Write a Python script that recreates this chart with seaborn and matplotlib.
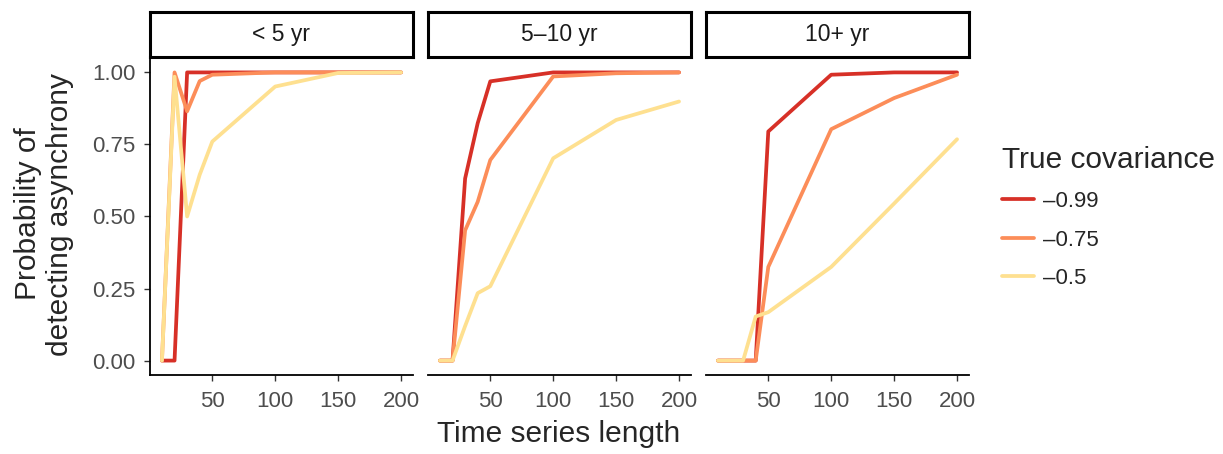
import matplotlib
matplotlib.use("Agg")
import matplotlib.pyplot as plt
from matplotlib.lines import Line2D
import seaborn as sns
import pandas as pd

sns.set_theme(style="white")
plt.rcParams['font.family'] = ['Liberation Sans', 'DejaVu Sans']

# ---- data ----
lengths = [10, 20, 30, 40, 50, 100, 150, 200]
panels = ["< 5 yr", "5\u201310 yr", "10+ yr"]
cov_labels = ["\u20130.99", "\u20130.75", "\u20130.5"]
colors = ["#D73027", "#FC8D59", "#FEE090"]

p1_099 = [0.0, 0.0, 1.0, 1.0, 1.0, 1.0, 1.0, 1.0]
p1_075 = [0.0, 1.0, 0.865, 0.97, 0.992, 1.0, 1.0, 1.0]
p1_050 = [0.0, 0.985, 0.50, 0.645, 0.76, 0.951, 0.998, 1.0]

p2_099 = [0.0, 0.0, 0.632, 0.824, 0.969, 1.0, 1.0, 1.0]
p2_075 = [0.0, 0.0, 0.452, 0.551, 0.696, 0.986, 0.997, 1.0]
p2_050 = [0.0, 0.0, 0.12, 0.234, 0.258, 0.702, 0.835, 0.899]

p3_099 = [0.0, 0.0, 0.0, 0.0, 0.795, 0.992, 1.0, 1.0]
p3_075 = [0.0, 0.0, 0.0, 0.0, 0.325, 0.803, 0.911, 0.992]
p3_050 = [0.0, 0.0, 0.0, 0.153, 0.168, 0.325, 0.545, 0.768]

series = {
    panels[0]: [p1_099, p1_075, p1_050],
    panels[1]: [p2_099, p2_075, p2_050],
    panels[2]: [p3_099, p3_075, p3_050],
}

rows = []
for pan in panels:
    for lab, vals in zip(cov_labels, series[pan]):
        for x, y in zip(lengths, vals):
            rows.append({"panel": pan, "cov": lab, "length": x, "prob": y})
df = pd.DataFrame(rows)

palette = dict(zip(cov_labels, colors))

W, H = 1223, 454
fig = plt.figure(figsize=(W / 100, H / 100), dpi=100)

lefts = [150, 428, 706]
pw = 263
ax_top, ax_bot = 58, 375
strip_top, strip_bot = 12, 57
grey = "#4D4D4D"
LW = 2.7

for i, pan in enumerate(panels):
    ax = fig.add_axes([lefts[i] / W, 1 - ax_bot / H, pw / W, (ax_bot - ax_top) / H])
    sub = df[df.panel == pan]
    sns.lineplot(data=sub, x="length", y="prob", hue="cov", hue_order=cov_labels,
                 palette=palette, linewidth=LW, ax=ax, legend=False,
                 estimator=None, sort=False)
    ax.set_xlim(0.5, 209.5)
    ax.set_ylim(-0.05, 1.05)
    ax.set_xticks([50, 100, 150, 200])
    ax.set_xticklabels(["50", "100", "150", "200"])
    ax.set_xlabel("")
    ax.set_ylabel("")
    for s in ["top", "right"]:
        ax.spines[s].set_visible(False)
    ax.spines["bottom"].set_linewidth(1.3)
    ax.spines["bottom"].set_color("black")
    ax.tick_params(axis="x", length=4.5, width=1.0, color="#333333",
                   labelsize=16, labelcolor=grey, pad=7, bottom=True)
    if i == 0:
        ax.spines["left"].set_linewidth(1.3)
        ax.spines["left"].set_color("black")
        ax.set_yticks([0, 0.25, 0.5, 0.75, 1.0])
        ax.set_yticklabels(["0.00", "0.25", "0.50", "0.75", "1.00"])
        ax.tick_params(axis="y", length=4.5, width=1.0, color="#333333",
                       labelsize=16, labelcolor=grey, pad=6, left=True)
    else:
        ax.spines["left"].set_visible(False)
        ax.set_yticks([])
    # strip
    sax = fig.add_axes([lefts[i] / W, 1 - strip_bot / H, pw / W, (strip_bot - strip_top) / H])
    sax.set_xticks([])
    sax.set_yticks([])
    for s in sax.spines.values():
        s.set_linewidth(2.2)
        s.set_color("black")
    sax.set_facecolor("white")
    sax.text(0.5, 0.5, pan, ha="center", va="center", fontsize=16.5, color="#1A1A1A",
             transform=sax.transAxes)

fig.text(559 / W, 1 - 434 / H, "Time series length", ha="center", va="center", fontsize=21.5)
fig.text(44 / W, 1 - 214 / H, "Probability of\ndetecting asynchrony", ha="center", va="center",
         rotation=90, fontsize=21.5, linespacing=1.15)

handles = [Line2D([0], [0], color=c, lw=LW) for c in colors]
leg = fig.legend(handles, cov_labels, title="True covariance", loc="upper left",
                 bbox_to_anchor=(993 / W, 1 - 137 / H), frameon=False,
                 fontsize=16, title_fontsize=21.5, handlelength=1.45,
                 labelspacing=0.78, handletextpad=0.4, borderaxespad=0)
leg._legend_box.align = "left"

fig.savefig("out.png", dpi=100)
